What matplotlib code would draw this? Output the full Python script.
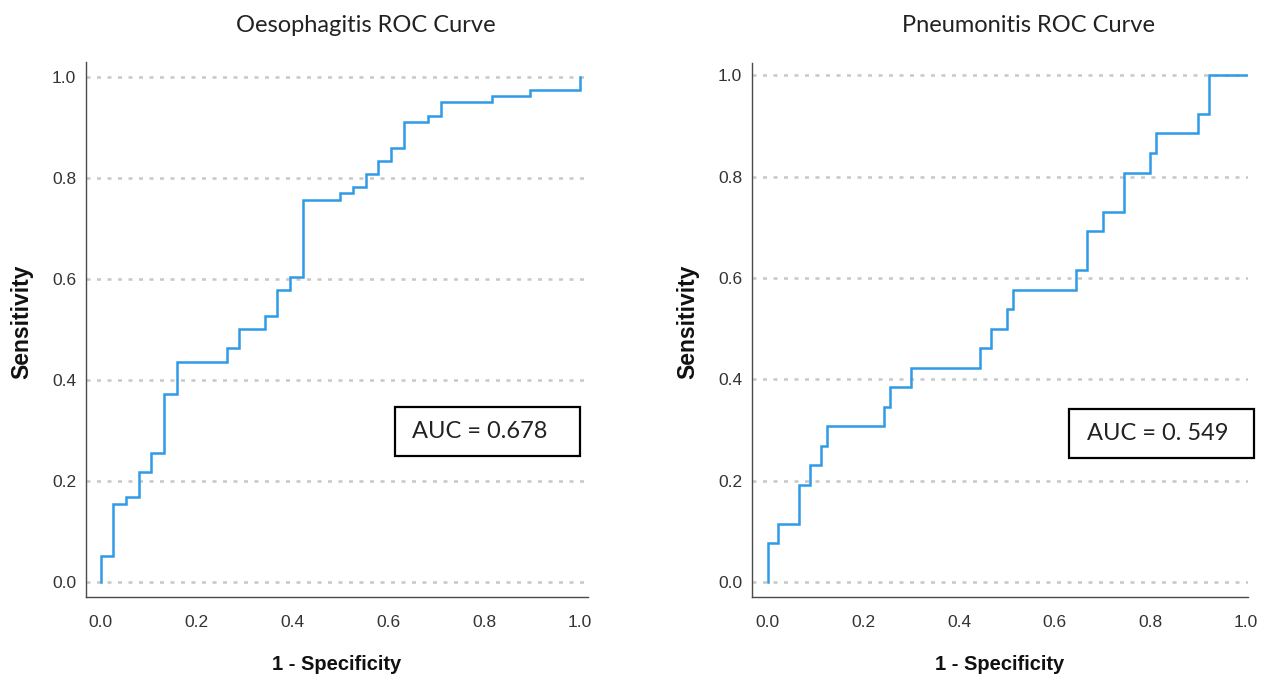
import matplotlib
matplotlib.use("Agg")
import matplotlib.pyplot as plt
from matplotlib.patches import Rectangle

# ---------------- data ----------------
oeso_fpr = [0.0, 0.0, 0.026, 0.053, 0.079, 0.105, 0.132, 0.158, 0.263, 0.289,
            0.342, 0.368, 0.395, 0.421, 0.500, 0.526, 0.553, 0.579, 0.605, 0.632,
            0.684, 0.711, 0.816, 0.895, 1.0]
oeso_tpr = [0.0, 0.051, 0.154, 0.167, 0.218, 0.256, 0.372, 0.436, 0.462, 0.500,
            0.526, 0.577, 0.603, 0.756, 0.769, 0.782, 0.808, 0.833, 0.859, 0.910,
            0.923, 0.949, 0.962, 0.974, 1.0]

pneu_fpr = [0.0, 0.0, 0.022, 0.066, 0.088, 0.111, 0.123, 0.244, 0.255, 0.300,
            0.443, 0.467, 0.500, 0.512, 0.645, 0.668, 0.701, 0.744, 0.800, 0.812,
            0.900, 0.922, 1.0]
pneu_tpr = [0.0, 0.077, 0.115, 0.192, 0.231, 0.269, 0.308, 0.346, 0.385, 0.423,
            0.462, 0.500, 0.538, 0.577, 0.615, 0.692, 0.731, 0.808, 0.846, 0.885,
            0.923, 1.0, 1.0]

titles = ["Oesophagitis ROC Curve", "Pneumonitis ROC Curve"]
auc_labels = ["AUC = 0.678", "AUC = 0. 549"]
ticks = [0.0, 0.2, 0.4, 0.6, 0.8, 1.0]
tick_labels = ["0.0", "0.2", "0.4", "0.6", "0.8", "1.0"]
xlabel = "1 - Specificity"
ylabel = "Sensitivity"

# ---------------- styling ----------------
W, H = 1266, 682
fig = plt.figure(figsize=(W / 100, H / 100), dpi=100)
fig.patch.set_facecolor("white")

curve_color = "#2f9ae6"
grid_color = "#c8c8c8"
spine_color = "#4a4a4a"
tick_color = "#333333"
arial = ["Liberation Sans", "DejaVu Sans"]
calibri = ["Lato", "DejaVu Sans"]

# axes boxes in pixel coordinates: (left, top, right, bottom)
boxes = [(86, 62, 588, 597), (752, 63, 1248, 597)]
xlims = [(-0.031, 1.017), (-0.033, 1.004)]
ylims = [(-0.030, 1.029), (-0.029, 1.024)]
series = [(oeso_fpr, oeso_tpr), (pneu_fpr, pneu_tpr)]
title_centers = [(366, 25), (1028, 25)]
ylabel_x = [22, 688]
auc_boxes = [(395, 407, 580, 456), (1069, 409, 1254, 458)]
auc_text_x = [412, 1087]

for i in range(2):
    l, t, r, b = boxes[i]
    ax = fig.add_axes([l / W, 1 - b / H, (r - l) / W, (b - t) / H])
    fx, ty = series[i]
    ax.plot(fx, ty, drawstyle="steps-post", color=curve_color, lw=1.8,
            solid_joinstyle="miter", zorder=3)
    ax.set_xlim(*xlims[i])
    ax.set_ylim(*ylims[i])
    for v in ticks:
        ax.axhline(v, color=grid_color, lw=1.8, linestyle=(0, (1.6, 2.6)), zorder=1)
    ax.set_xticks(ticks)
    ax.set_xticklabels(tick_labels, family=arial, fontsize=12.5, color=tick_color)
    ax.set_yticks(ticks)
    ax.set_yticklabels(tick_labels, family=arial, fontsize=12.5, color=tick_color)
    ax.tick_params(axis="x", length=0, pad=13)
    ax.tick_params(axis="y", length=0, pad=7)
    for s in ["top", "right"]:
        ax.spines[s].set_visible(False)
    for s in ["left", "bottom"]:
        ax.spines[s].set_color(spine_color)
        ax.spines[s].set_linewidth(1.0)
    ax.set_xlabel(xlabel, family=arial, fontsize=14.5, fontweight="bold",
                  color="#111111", labelpad=18)
    # y label placed in figure coordinates
    fig.text(ylabel_x[i] / W, 1 - 322 / H, ylabel, rotation=90, ha="center",
             va="center", family=arial, fontsize=16.5, fontweight="bold",
             color="#111111")
    # title
    cx, cy = title_centers[i]
    fig.text(cx / W, 1 - cy / H, titles[i], ha="center", va="center",
             family=calibri, fontsize=17, color="#222222")
    # AUC box
    x0, y0, x1, y1 = auc_boxes[i]
    fig.patches.append(Rectangle((x0 / W, 1 - y1 / H), (x1 - x0) / W, (y1 - y0) / H,
                                 transform=fig.transFigure, fill=True,
                                 facecolor="white", edgecolor="black", lw=1.6,
                                 zorder=5))
    fig.text(auc_text_x[i] / W, 1 - ((y0 + y1) / 2) / H, auc_labels[i],
             ha="left", va="center", family=calibri, fontsize=17,
             color="#222222", zorder=6)

fig.savefig("out.png", dpi=100, facecolor="white")
